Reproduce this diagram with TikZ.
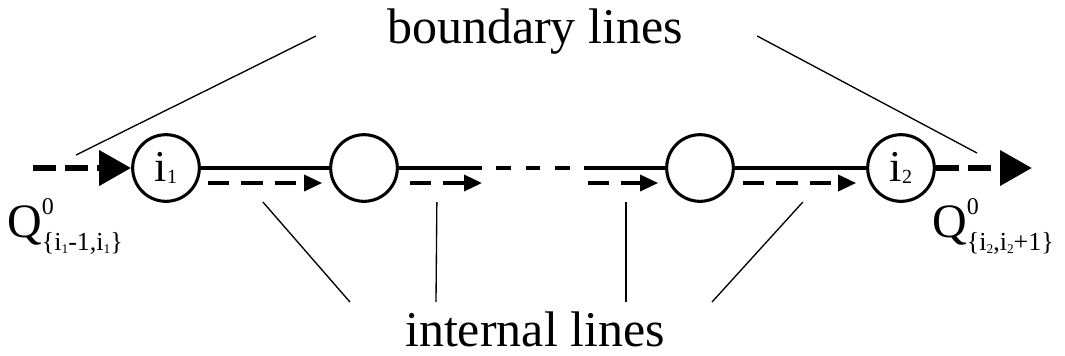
\documentclass[tikz,border=0pt]{standalone}
\usepackage{fontspec}
\setmainfont{Liberation Serif}
\usetikzlibrary{positioning,calc,arrows.meta}

\newcommand{\tinysub}[1]{\raisebox{-2pt}{\fontsize{10}{12}\selectfont #1}}
\newcommand{\flowQ}[1]{Q\rlap{\raisebox{17pt}{\fontsize{18}{20}\selectfont 0}}%
  \raisebox{-10pt}{\fontsize{19.5}{22}\selectfont #1}}

\begin{document}
\begin{tikzpicture}%
	[x=0.75pt, y=-0.75pt,
	site/.style = {circle, draw, line width=2.3pt, minimum size=50pt, inner sep=0pt,
		font=\fontsize{33}{36}\selectfont},
	mainline/.style = {line width=2.7pt},
	gapline/.style = {mainline, dash pattern=on 11pt off 11pt},
	flow/.style = {line width=2.6pt, dash pattern=on 16pt off 9pt,
		-{Triangle[length=13.5pt,width=12pt]}},
	bound/.style = {line width=5.2pt, dash pattern=on 17pt off 7pt,
		-{Triangle[length=24pt,width=25.5pt]}},
	pointer/.style = {line width=1pt},
	caption/.style = {font=\fontsize{37.5}{40}\selectfont, inner sep=0pt, anchor=base},
	qlabel/.style = {font=\fontsize{36}{40}\selectfont, inner sep=0pt, anchor=base west}]
	\useasboundingbox (0,0) rectangle (1065,355);

	\node[site] (i1) at (166,168) {i\raisebox{-1pt}{\fontsize{15}{18}\selectfont 1}};
	\node[site] (c2) at (364,168) {};
	\node[site] (c3) at (700,168) {};
	\node[site] (i2) at (901,168) {i\raisebox{-1pt}{\fontsize{15}{18}\selectfont 2}};

	\coordinate (gapL) at (467,168);
	\coordinate (gapR) at (590,168);
	\coordinate (qin) at (33,168);
	\coordinate (qout) at (1032,168);

	% chain of sites
	\draw[mainline] (i1) -- (c2);
	\draw[mainline] (c2) -- (gapL);
	\draw[gapline] (gapL) -- (gapR);
	\draw[mainline] (gapR) -- (c3);
	\draw[mainline] (c3) -- (i2);

	\draw[bound] (qin) -- (i1.west);
	\draw[bound] (i2.east) -- (qout);

	\draw[flow] ($(i1.east)+(7,15)$) -- ($(c2.west)+(-7,15)$);
	\draw[flow] ($(c2.east)+(11,15)$) -- ($(gapL)+(15,15)$);
	\draw[flow] ($(gapR)+(-2,15)$) -- ($(c3.west)+(-7,15)$);
	\draw[flow] ($(c3.east)+(8,15)$) -- ($(i2.west)+(-10,15)$);

	\node[qlabel] (qinL) at (7,237) {\flowQ{\{i\tinysub{1}-1,i\tinysub{1}\}}};
	\node[qlabel] (qoutL) at (932,237) {\flowQ{\{i\tinysub{2},i\tinysub{2}+1\}}};

	\node[caption] (bnd) at (535,43) {boundary lines};
	\node[caption] (intl) at (535,346) {internal lines};

	% pointers to the flows
	\draw[pointer] ($(bnd.base west)+(-71,-7)$) -- ($(qin)+(43,-13)$);
	\draw[pointer] ($(bnd.base east)+(74,-7)$) -- ($(qout)+(-55,-15)$);

	\draw[pointer] ($(intl.north)+(-185,-9)$) -- ($(i1.east)+(62,34)$);
	\draw[pointer] ($(intl.north)+(-99,-9)$) -- ($(c2.east)+(38,34)$);
	\draw[pointer] ($(intl.north)+(91,-9)$) -- ($(gapR)+(36,34)$);
	\draw[pointer] ($(intl.north)+(177,-9)$) -- ($(c3.east)+(68,34)$);
\end{tikzpicture}
\end{document}
